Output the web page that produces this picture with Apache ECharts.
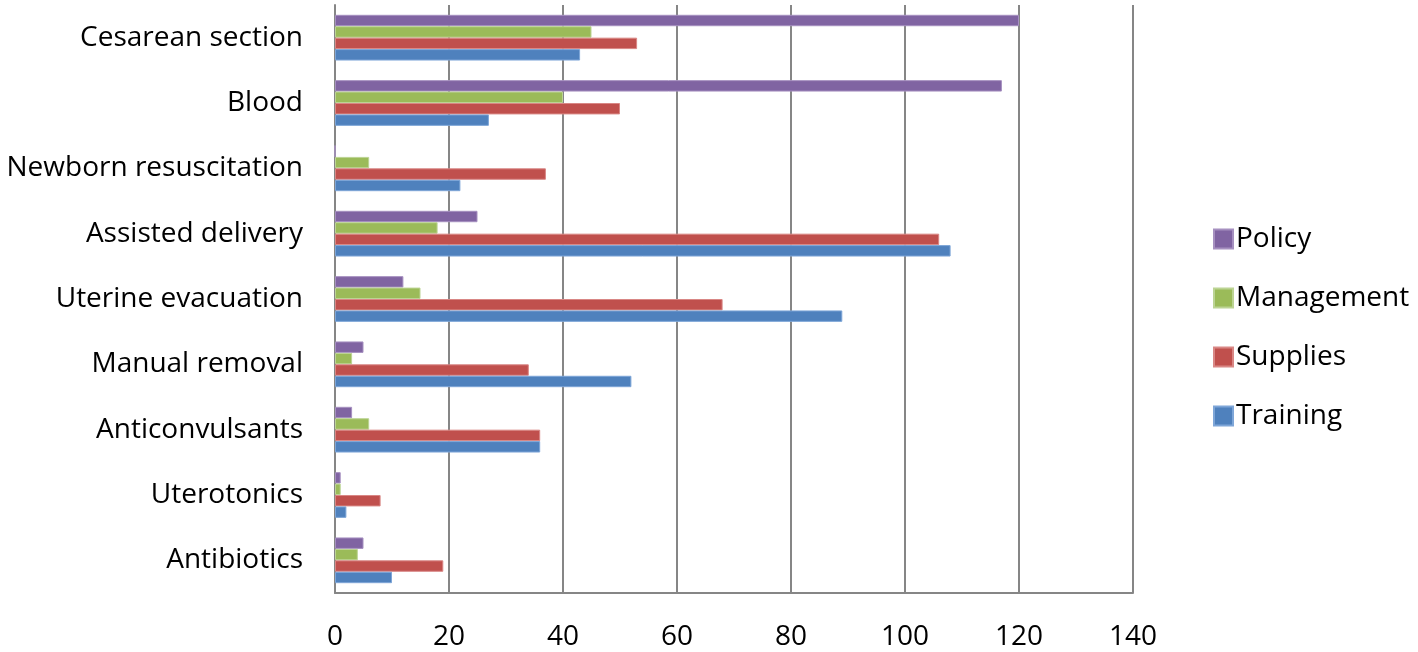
<!DOCTYPE html>
<html><head><meta charset="utf-8">
<script src="https://cdn.jsdelivr.net/npm/echarts@6/dist/echarts.min.js"></script>
<style>html,body{margin:0;padding:0;background:#fff}#c{width:1418px;height:652px}</style>
</head><body><div id="c"></div>
<script>
var categories = ['Antibiotics','Uterotonics','Anticonvulsants','Manual removal','Uterine evacuation','Assisted delivery','Newborn resuscitation','Blood','Cesarean section'];
var training   = [10, 2, 36, 52, 89, 108, 22, 27, 43];
var supplies   = [19, 8, 36, 34, 68, 106, 37, 50, 53];
var management = [4, 1, 6, 3, 15, 18, 6, 40, 45];
var policy     = [5, 1, 3, 5, 12, 25, 0, 117, 120];
var xTicks = [0, 20, 40, 60, 80, 100, 120, 140];

var font = 'Open Sans';
function s(name, data, color, border){
  return {name:name, type:'bar', data:data, barGap:'0%', barCategoryGap:'30%',
    itemStyle:{color:color, borderColor:border, borderWidth:1}};
}
var chart = echarts.init(document.getElementById('c'));
chart.setOption({
  animation:false,
  grid:{left:335, right:285, top:5, bottom:59},
  legend:{orient:'vertical', left:1208, top:220, itemWidth:19, itemHeight:19, itemGap:31,
    icon:'rect', data:['Policy','Management','Supplies','Training'],
    textStyle:{fontFamily:font, fontSize:28, color:'#000', padding:[0,0,0,-2]}},
  xAxis:{type:'value', min:xTicks[0], max:xTicks[xTicks.length-1], interval:20,
    axisLine:{show:true, lineStyle:{color:'#868686', width:2}}, axisTick:{show:false},
    splitLine:{lineStyle:{color:'#868686', width:2}},
    axisLabel:{fontFamily:font, fontSize:28, color:'#000', margin:30}},
  yAxis:{type:'category', data:categories,
    axisLine:{show:true, lineStyle:{color:'#868686', width:2}}, axisTick:{show:false},
    axisLabel:{fontFamily:font, fontSize:28, color:'#000', margin:32}},
  series:[
    s('Policy', policy, '#8064A2', '#A690C0'),
    s('Management', management, '#9BBB59', '#BCD494'),
    s('Supplies', supplies, '#C0504D', '#D98785'),
    s('Training', training, '#4F81BD', '#7EA6D8')
  ]
});
</script></body></html>
